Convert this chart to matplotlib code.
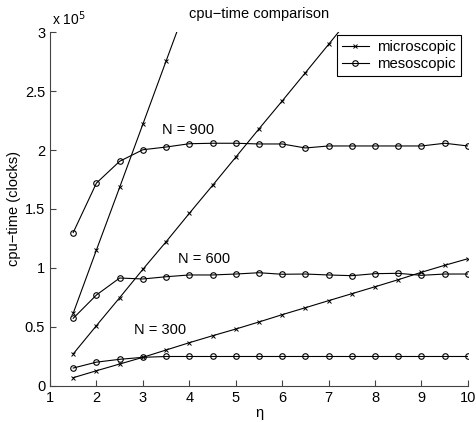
import matplotlib
matplotlib.use("Agg")
import matplotlib.pyplot as plt
import numpy as np

plt.rcParams['font.family'] = ['Liberation Sans', 'DejaVu Sans']

eta = [1.5, 2, 2.5, 3, 3.5, 4, 4.5, 5, 5.5, 6, 6.5, 7, 7.5, 8, 8.5, 9, 9.5, 10]

# microscopic (units of 1e5 clocks)
micro_900_x = [1.5, 2, 2.5, 3, 3.5, 4]
micro_900 = [0.615, 1.152, 1.684, 2.22, 2.756, 3.29]
micro_600_x = [1.5, 2, 2.5, 3, 3.5, 4, 4.5, 5, 5.5, 6, 6.5, 7, 7.5]
micro_600 = [0.27, 0.51, 0.747, 0.988, 1.222, 1.463, 1.70, 1.94, 2.18, 2.417, 2.657, 2.898, 3.14]
micro_300 = [0.068, 0.127, 0.184, 0.241, 0.303, 0.365, 0.424, 0.481, 0.541, 0.603,
             0.662, 0.722, 0.781, 0.84, 0.90, 0.963, 1.022, 1.078]

# mesoscopic
meso_900 = [1.30, 1.72, 1.905, 2.003, 2.026, 2.054, 2.058, 2.058, 2.052, 2.052,
            2.018, 2.035, 2.035, 2.035, 2.035, 2.035, 2.058, 2.035]
meso_600 = [0.572, 0.77, 0.914, 0.906, 0.925, 0.94, 0.94, 0.948, 0.959, 0.946,
            0.948, 0.94, 0.934, 0.951, 0.954, 0.937, 0.948, 0.948]
meso_300 = [0.15, 0.20, 0.224, 0.241, 0.248, 0.248, 0.248, 0.248, 0.248, 0.248,
            0.248, 0.248, 0.248, 0.248, 0.248, 0.248, 0.248, 0.248]

scale = 1e5
xticks = [1, 2, 3, 4, 5, 6, 7, 8, 9, 10]
yticks = [0, 0.5, 1, 1.5, 2, 2.5, 3]
ytick_labels = ['0', '0.5', '1', '1.5', '2', '2.5', '3']

fig = plt.figure(figsize=(4.77, 4.22), dpi=100)
ax = fig.add_axes([0.1048, 0.086, 0.8762, 0.8375])

mk = dict(color='black', lw=0.8)
xm = dict(marker='x', ms=3, mew=0.7)
om = dict(marker='o', ms=4, mfc='none', mew=0.8)
lm, = ax.plot(micro_900_x, np.array(micro_900) * scale, **xm, **mk)
ax.plot(micro_600_x, np.array(micro_600) * scale, **xm, **mk)
ax.plot(eta, np.array(micro_300) * scale, **xm, **mk)
lo, = ax.plot(eta, np.array(meso_900) * scale, **om, **mk)
ax.plot(eta, np.array(meso_600) * scale, **om, **mk)
ax.plot(eta, np.array(meso_300) * scale, **om, **mk)

ax.set_xlim(1, 10)
ax.set_ylim(0, 3 * scale)
ax.set_xticks(xticks)
ax.set_xticklabels([str(t) for t in xticks])
ax.set_yticks([t * scale for t in yticks])
ax.set_yticklabels(ytick_labels)
ax.tick_params(direction='in', labelsize=10.5, length=4, width=0.8, color='#444444')
for s in ['top', 'right']:
    ax.spines[s].set_visible(False)
for s in ['left', 'bottom']:
    ax.spines[s].set_linewidth(0.8)
    ax.spines[s].set_color('#444444')

ax.set_title('cpu\u2212time comparison', fontsize=10.5, pad=10)
ax.set_xlabel('\u03b7', fontsize=10.5, labelpad=1)
ax.set_ylabel('cpu\u2212time (clocks)', fontsize=10.5, labelpad=3)
ax.text(0.004, 1.012, r'x 10$^{5}$', transform=ax.transAxes, fontsize=10, va='bottom', ha='left')

ax.text(3.41, 2.14 * scale, 'N = 900', fontsize=10.5)
ax.text(3.76, 1.04 * scale, 'N = 600', fontsize=10.5)
ax.text(2.81, 0.44 * scale, 'N = 300', fontsize=10.5)

leg = ax.legend([lm, lo], ['microscopic', 'mesoscopic'], loc='upper right',
                bbox_to_anchor=(0.99, 1.0), fontsize=10.7, fancybox=False,
                edgecolor='black', framealpha=1, handlelength=1.8,
                borderpad=0.3, labelspacing=0.25, handletextpad=0.6,
                borderaxespad=0.2)
leg.get_frame().set_linewidth(0.8)

fig.savefig('out.png', dpi=100)
